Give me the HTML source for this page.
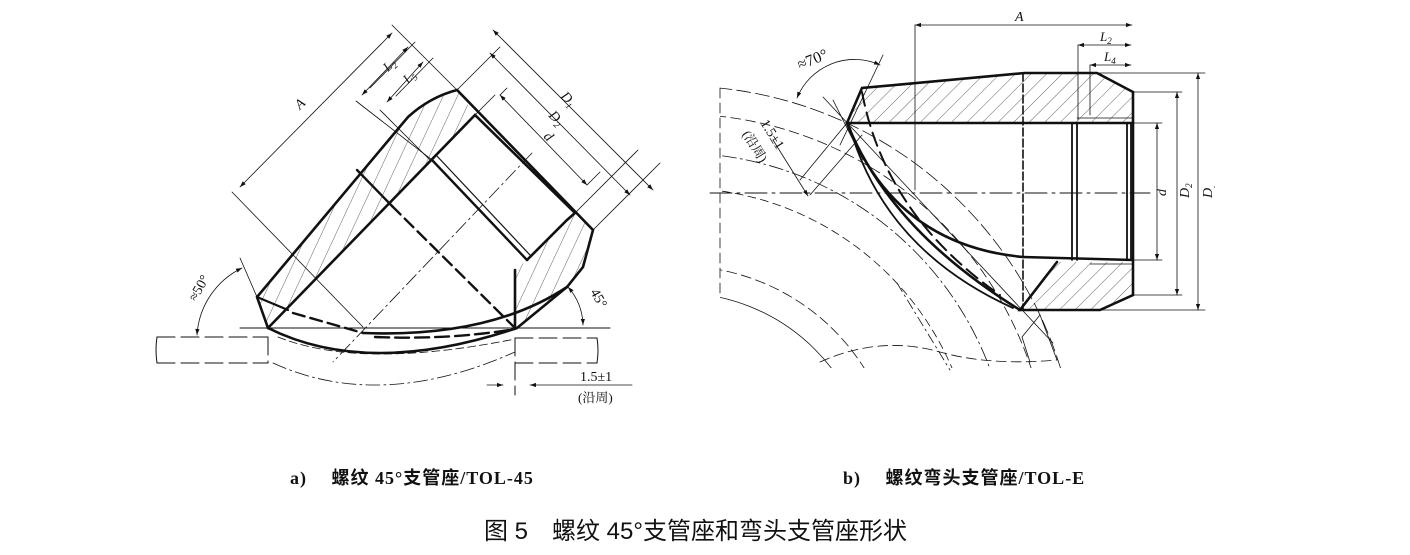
<!DOCTYPE html>
<html><head><meta charset="utf-8"><style>
html,body{margin:0;padding:0;background:#fff;overflow:hidden;width:1410px;height:555px;}
svg{display:block;}
text{font-family:"Liberation Serif","Noto Serif CJK SC",serif;fill:#111;}
.cap{font-family:"Liberation Serif","Noto Sans CJK SC",serif;font-size:18px;font-weight:bold;letter-spacing:1px;}
.tt{font-family:"Liberation Sans","Noto Sans CJK SC",sans-serif;font-size:24px;}
</style></head><body>
<svg width="1410" height="555" viewBox="0 0 1410 555" xmlns="http://www.w3.org/2000/svg">
<defs>
<marker id="ar" viewBox="0 0 10 10" refX="10" refY="5" markerWidth="9" markerHeight="6" orient="auto-start-reverse" markerUnits="userSpaceOnUse"><path d="M0,1.5 L10,5 L0,8.5z" fill="#111"/></marker>
<pattern id="hL" width="13" height="13" patternUnits="userSpaceOnUse" patternTransform="rotate(25)"><line x1="0" y1="0" x2="0" y2="13" stroke="#222" stroke-width="0.7"/></pattern>
<pattern id="hR" width="11" height="11" patternUnits="userSpaceOnUse" patternTransform="rotate(45)"><line x1="0" y1="0" x2="0" y2="11" stroke="#222" stroke-width="0.7"/></pattern>
<clipPath id="elb"><rect x="720" y="80" width="345" height="288"/></clipPath>
</defs>

<g fill="none" stroke="#111" stroke-linecap="round">
<polygon points="257,297 408,117 430,100 457,90 475,115 268,328" fill="url(#hL)" stroke="none"/>
<polygon points="517,328 567,287 583,267 593,230 575,213 567,220 527,260 515,270 515,328" fill="url(#hL)" stroke="none"/>
<path d="M268,328 L257,297 L408,117 Q430,97 457,90 L593,230 L583,267 L567,287 L517,328" stroke-width="2.6"/>
<path d="M257,297 L288,310" stroke-width="2.2"/>
<path d="M268,328 L475,115 L575,213 L567,220 L527,260" stroke-width="2.6"/>
<path d="M432,160 L527,260" stroke-width="2.4"/>
<path d="M436,155 L530,255" stroke-width="1.2"/>
<path d="M515,270 L515,328" stroke-width="2.6"/>
<path d="M357,170 L392,206" stroke-width="2.4"/>
<path d="M392,206 L515,328" stroke-width="2.4" stroke-dasharray="12,6"/>
<path d="M567,287 Q490,338 363,333" stroke-width="2.6"/>
<path d="M293,313 L363,333" stroke-width="2.4" stroke-dasharray="12,6"/>
<path d="M268,328 Q368,378 517,328" stroke-width="2.6"/>
<path d="M375,337 Q450,340 515,329" stroke-width="2.4" stroke-dasharray="14,6"/>
<path d="M240,328 L610,328" stroke-width="1"/>
<path d="M532,153 L333,362" stroke-width="0.8" stroke-dasharray="14,4,2,4"/>
<path d="M278,337 Q360,370 515,339" stroke-width="0.8" stroke-dasharray="8,4"/>
<path d="M273,363 Q380,412 515,352" stroke-width="0.8" stroke-dasharray="14,4,2,4"/>
<path d="M157,337 L268,337 M157,363 L268,363 M268,337 L268,363" stroke-width="1" stroke-dasharray="18,6"/>
<path d="M157,337 Q155,350 157,363" stroke-width="1"/>
<path d="M515,338 L597,338 M515,363 L597,363 M515,338 L515,395" stroke-width="1" stroke-dasharray="18,6"/>
<path d="M597,338 Q599,350 597,363" stroke-width="1"/>
<g stroke-width="0.8">
<path d="M232,192 L363,327 M392,25 L457,90"/>
<path d="M240,187 L392,33" marker-start="url(#ar)" marker-end="url(#ar)"/>
<path d="M356,101 L432,160 M370,88 L415,42"/>
<path d="M362,95 L408,47" marker-start="url(#ar)" marker-end="url(#ar)"/>
<path d="M380,110 L430,160 M396,96 L433,58"/>
<path d="M387,102 L423,62" marker-start="url(#ar)" marker-end="url(#ar)"/>
<path d="M457,90 L500,47 M593,230 L660,163"/>
<path d="M493,30 L653,190" marker-start="url(#ar)" marker-end="url(#ar)"/>
<path d="M475,115 L495,95 M575,213 L638,150"/>
<path d="M490,53 L630,195" marker-start="url(#ar)" marker-end="url(#ar)"/>
<path d="M507,88 L500,95 M587,185 L600,172"/>
<path d="M500,95 L587,185" marker-start="url(#ar)" marker-end="url(#ar)"/>
<path d="M240,258 L257,297"/>
<path d="M242,268 A80,80 0 0 0 197,335" marker-start="url(#ar)" marker-end="url(#ar)"/>
<path d="M568,287 A60,60 0 0 1 583,325" marker-start="url(#ar)" marker-end="url(#ar)"/>
<path d="M487,385 L503,385" marker-end="url(#ar)"/>
<path d="M632,385 L530,385" marker-end="url(#ar)"/>
</g>
</g>
<text x="300" y="110" font-size="14" font-style="italic" transform="rotate(-45 300 110)">A</text>
<text x="388" y="72" font-size="13" font-style="italic" transform="rotate(-45 388 72)">L<tspan font-size="9" dy="3">2</tspan></text>
<text x="408" y="84" font-size="13" font-style="italic" transform="rotate(-45 408 84)">L<tspan font-size="9" dy="3">5</tspan></text>
<text x="560" y="97" font-size="14" font-style="italic" transform="rotate(45 560 97)">D<tspan font-size="9" dy="3">1</tspan></text>
<text x="548" y="116" font-size="14" font-style="italic" transform="rotate(45 548 116)">D<tspan font-size="9" dy="3">2</tspan></text>
<text x="543" y="137" font-size="14" font-style="italic" transform="rotate(45 543 137)">d</text>
<text x="196" y="302" font-size="14" transform="rotate(-60 196 302)">≈50°</text>
<text x="590" y="292" font-size="14" transform="rotate(60 590 292)">45°</text>
<text x="580" y="381" font-size="14">1.5±1</text>
<text x="578" y="402" font-size="13" font-family="Liberation Serif,Noto Sans CJK SC,sans-serif">(沿周)</text>

<g fill="none" stroke="#111" stroke-linecap="round">
<g clip-path="url(#elb)" stroke-width="0.8">
<circle cx="679" cy="485" r="399" stroke-dasharray="14,5"/>
<circle cx="679" cy="485" r="371" stroke-dasharray="10,5"/>
<circle cx="679" cy="485" r="332" stroke-dasharray="14,4,2,4"/>
<circle cx="679" cy="485" r="297" stroke-dasharray="8,5"/>
<circle cx="679" cy="485" r="219" stroke-dasharray="10,5"/>
<circle cx="679" cy="485" r="192"/>
</g>
<g stroke-width="0.8">
<path d="M720,88 L720,297" stroke-dasharray="10,5"/>
<path d="M820,362 Q880,335 940,352 Q990,366 1057,360" stroke-dasharray="10,5"/>
<path d="M1022,337 L1040,315 M1022,337 L1030,362 M1040,315 L1057,360"/>
<path d="M897,283 L950,370" stroke-dasharray="10,4,2,4"/>
</g>
<polygon points="862,88 1025,73 1097,73 1133,92 1133,123 847,123" fill="url(#hR)" stroke="none"/>
<polygon points="1057,262 1133,262 1133,295 1100,310 1020,310" fill="url(#hR)" stroke="none"/>
<path d="M847,123 L862,88 L1025,73 L1097,73 L1133,92 L1133,295 L1100,310 L1020,310 L1057,262" stroke-width="2.6"/>
<path d="M847,123 L1133,123 M1023,257 L1133,260" stroke-width="2.6"/>
<path d="M1023,73 L1023,310" stroke-width="1.6" stroke-dasharray="8,3"/>
<path d="M1072,123 L1072,260 M1077,123 L1077,260 M1127,123 L1127,260 M1131,123 L1131,260" stroke-width="1.8"/>
<path d="M1077,118 L1133,118 M1090,264 L1133,264" stroke-width="0.8"/>
<path d="M847,123 Q890,230 1020,310" stroke-width="2.6"/>
<path d="M850,128 Q885,250 1013,308" stroke-width="1.8"/>
<path d="M847,123 Q895,245 1023,257" stroke-width="2.6"/>
<path d="M862,92 Q885,215 1000,295" stroke-width="2" stroke-dasharray="14,7"/>
<path d="M710,193 L1150,193" stroke-width="0.9" stroke-dasharray="22,5,3,5"/>
<g stroke-width="0.8">
<path d="M915,25 L915,190 M1078,45 L1078,120 M1090,65 L1090,115"/>
<path d="M915,25 L1132,25" marker-start="url(#ar)" marker-end="url(#ar)"/>
<path d="M1078,45 L1131,45" marker-start="url(#ar)" marker-end="url(#ar)"/>
<path d="M1090,65 L1131,65" marker-start="url(#ar)" marker-end="url(#ar)"/>
<path d="M1133,123 L1162,123 M1133,260 L1162,260 M1133,92 L1182,92 M1133,295 L1182,295 M1097,73 L1205,73 M1100,310 L1205,310"/>
<path d="M1157,123 L1157,260" marker-start="url(#ar)" marker-end="url(#ar)"/>
<path d="M1177,92 L1177,295" marker-start="url(#ar)" marker-end="url(#ar)"/>
<path d="M1198,73 L1198,310" marker-start="url(#ar)" marker-end="url(#ar)"/>
<path d="M883,55 L840,145 M823,97 L1053,343 M833,100 L863,160"/>
<path d="M797,98 A62,62 0 0 1 880,65" marker-start="url(#ar)" marker-end="url(#ar)"/>
<path d="M847,123 L800,180 M862,135 L810,195"/>
<path d="M773,140 L808,196" marker-end="url(#ar)"/>
</g>
</g>
<text x="800" y="70" font-size="16" transform="rotate(-22 800 70)">≈70°</text>
<text x="760" y="123" font-size="14" transform="rotate(58 760 123)">1.5±1</text>
<text x="742" y="134" font-size="13" font-family="Liberation Serif,Noto Sans CJK SC,sans-serif" transform="rotate(58 742 134)">(沿周)</text>
<text x="1015" y="21" font-size="14" font-style="italic">A</text>
<text x="1100" y="41" font-size="13" font-style="italic">L<tspan font-size="9" dy="3">2</tspan></text>
<text x="1104" y="61" font-size="13" font-style="italic">L<tspan font-size="9" dy="3">4</tspan></text>
<text x="1166" y="196" font-size="14" font-style="italic" transform="rotate(-90 1166 196)">d</text>
<text x="1189" y="198" font-size="14" font-style="italic" transform="rotate(-90 1189 198)">D<tspan font-size="9" dy="3">2</tspan></text>
<text x="1212" y="198" font-size="14" font-style="italic" transform="rotate(-90 1212 198)">D<tspan font-size="9" dy="3">.</tspan></text>

<text class="cap" x="290" y="484">a)　 螺纹 45°支管座/TOL-45</text>
<text class="cap" x="843" y="484">b)　 螺纹弯头支管座/TOL-E</text>
<text class="tt" x="484" y="539">图 5　螺纹 45°支管座和弯头支管座形状</text>
</svg>
</body></html>
